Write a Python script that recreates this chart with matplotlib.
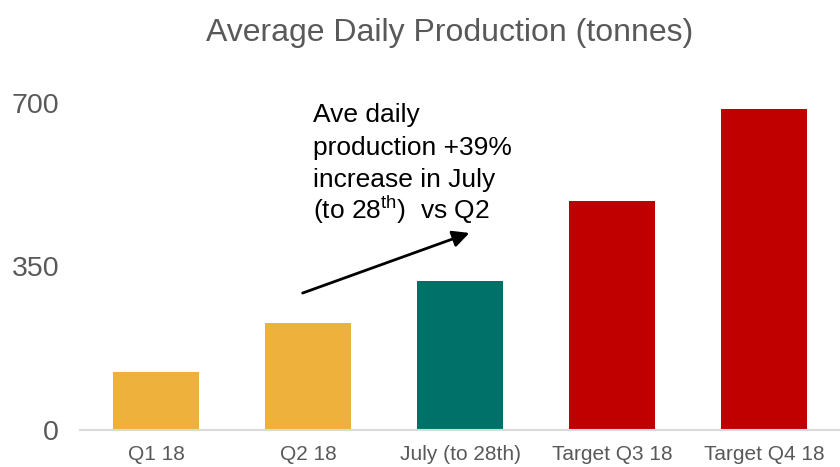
import matplotlib.pyplot as plt

categories = ['Q1 18', 'Q2 18', 'July (to 28th)', 'Target Q3 18', 'Target Q4 18']
production = [125, 230, 320, 490, 688]
bar_colors = ['#EEB13B', '#EEB13B', '#007168', '#C00000', '#C00000']
y_ticks = [0, 350, 700]
note_lines = ['Ave daily', 'production +39%', 'increase in July',
              '(to 28$^{\\mathrm{th}}$)  vs Q2']

plt.rcParams['font.family'] = ['Liberation Sans', 'DejaVu Sans']
plt.rcParams['mathtext.fontset'] = 'custom'
plt.rcParams['mathtext.rm'] = 'Liberation Sans'

fig = plt.figure(figsize=(8.4, 4.67), dpi=100)
ax = fig.add_axes([80 / 840, 37 / 467, 760 / 840, 327 / 467])

x = range(len(categories))
ax.bar(x, production, width=0.56, color=bar_colors)

ax.set_xlim(-0.5, len(categories) - 0.5)
ax.set_ylim(0, 700)
ax.set_xticks(list(x))
ax.set_xticklabels(categories, fontsize=15, color='#595959')
ax.set_yticks(y_ticks)
ax.set_yticklabels([str(t) for t in y_ticks], fontsize=20.5, color='#595959')
ax.tick_params(axis='both', length=0)
ax.tick_params(axis='x', pad=11)
ax.tick_params(axis='y', pad=15)

for s in ['top', 'right', 'left']:
    ax.spines[s].set_visible(False)
ax.spines['bottom'].set_color('#D9D9D9')
ax.spines['bottom'].set_linewidth(1.5)

fig.text(450 / 840, 1 - 33 / 467, 'Average Daily Production (tonnes)',
         fontsize=23, color='#595959', ha='center', va='center')

# annotation, one line at a time so the spacing stays even
for i, line in enumerate(note_lines):
    fig.text(313 / 840, 1 - (122 + 32.5 * i) / 467, line,
             fontsize=19, color='black', ha='left', va='baseline')

ax.annotate('', xy=(472 / 840, 1 - 232 / 467), xycoords='figure fraction',
            xytext=(300 / 840, 1 - 294 / 467), textcoords='figure fraction',
            arrowprops=dict(arrowstyle='-|>', color='black', lw=2,
                            mutation_scale=25))

fig.savefig('out.png', dpi=100)
